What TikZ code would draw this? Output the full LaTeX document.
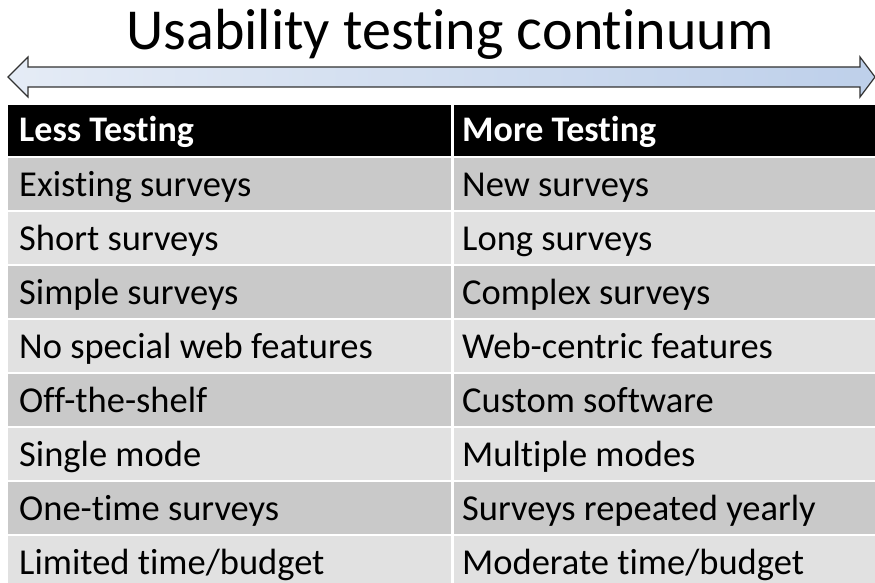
\documentclass[tikz,border=0pt]{standalone}
\usepackage{fontspec}
\setmainfont{Carlito}[Ligatures={NoCommon,NoRare,NoContextual}]
\definecolor{rowdark}{RGB}{201,201,201}
\definecolor{rowlight}{RGB}{225,225,225}
\definecolor{arrowedge}{RGB}{50,50,50}
\definecolor{shadeA}{RGB}{224,232,244}
\definecolor{shadeB}{RGB}{186,205,233}
\definecolor{shadeC}{RGB}{204,218,239}
\pgfdeclarehorizontalshading{continuumshade}{100bp}{color(0bp)=(white); color(30bp)=(shadeA); color(80bp)=(shadeB); color(100bp)=(shadeC)}

\begin{document}
\begin{tikzpicture}[x=1pt,y=-1pt,
  titletext/.style={anchor=base, inner sep=0pt, font=\fontsize{58}{62}\selectfont},
  headtext/.style={anchor=base west, inner sep=0pt, text=white, font=\fontsize{36}{40}\selectfont\bfseries},
  celltext/.style={anchor=base west, inner sep=0pt, text=black, font=\fontsize{36.5}{40}\selectfont},
  bigarrow/.style={draw=arrowedge, line width=1.2pt, line join=miter, shading=continuumshade}]
  \useasboundingbox (0,0) rectangle (875,583);
  \fill[white] (0,0) rectangle (875,583);

  % heading
  \node[titletext] (title) at (450,50) {Usability testing {\fontsize{61}{62}\selectfont c}ontinuum};

  % double-headed continuum arrow
  \path[bigarrow] (8,77) -- (28,57) -- (28,67) -- (860,67) -- (860,57) -- (875,77)
    -- (860,97) -- (860,87) -- (28,87) -- (28,97) -- cycle;

  % table header
  \fill[black] (8,105) rectangle (451,155.5);
  \fill[black] (453.5,105) rectangle (875,155.5);
  \node[headtext] (hless) at (19,142) {Less Testing};
  \node[headtext] (hmore) at (462,142) {More Testing};

  % table body
  \foreach \lesstxt/\moretxt [count=\i] in {
      Existing surveys/New surveys,
      Short surveys/Long surveys,
      Simple surveys/Complex surveys,
      No special web features/Web-centric features,
      Off-the-shelf/Custom software,
      Single mode/Multiple modes,
      One-time surveys/Surveys repeated yearly,
      Limited time\slash budget/Moderate time\slash budget} {
    \pgfmathsetmacro{\rowtop}{158+(\i-1)*54}
    \pgfmathtruncatemacro{\odd}{mod(\i,2)}
    \ifnum\odd=1 \def\rowfill{rowdark}\else \def\rowfill{rowlight}\fi
    \fill[\rowfill] (8,\rowtop) rectangle (451,\rowtop+52);
    \fill[\rowfill] (453.5,\rowtop) rectangle (875,\rowtop+52);
    \node[celltext] (less\i) at (19,\rowtop+38.5) {\lesstxt};
    \node[celltext] (more\i) at (462,\rowtop+38.5) {\moretxt};
  }
\end{tikzpicture}
\end{document}
